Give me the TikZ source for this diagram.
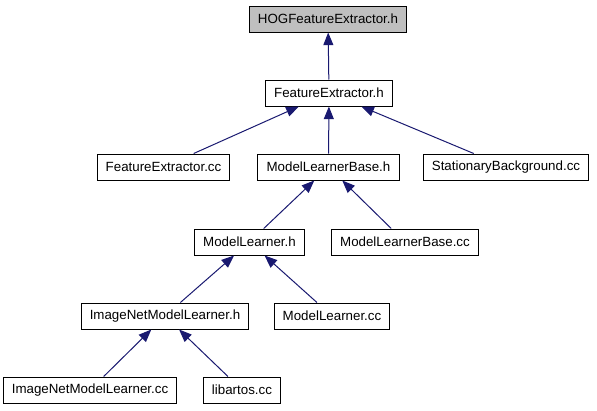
\documentclass[tikz,border=0pt]{standalone}
\usepackage{fontspec}
\setmainfont{Liberation Sans}
\usepackage{xcolor}
\usepackage{tikz}
\usetikzlibrary{arrows.meta,positioning,calc}
\definecolor{edgeblue}{HTML}{191970}
\tikzset{
  filebox/.style={
    rectangle, draw=black, fill=white,
    minimum height=19.5pt, inner xsep=6.5pt, inner ysep=0pt,
    font=\fontsize{10}{12}\selectfont, align=center, line width=0.75pt
  },
  rootbox/.style={
    filebox, fill=black!25
  },
  incl/.style={{Triangle[length=9.5pt,width=7.5pt]}-, line width=0.75pt, color=edgeblue},
}

\begin{document}
\begin{tikzpicture}[x=0.75pt,y=-0.75pt]
  \useasboundingbox (0,0) rectangle (597,411);

  % Included header
  \node[rootbox] (hog) at (328,19) {HOGFeatureExtractor.h};

  % First level
  \node[filebox] (feath) at (329,93) {FeatureExtractor.h};

  % Second level
  \node[filebox] (featcc) at (163.5,167) {FeatureExtractor.cc};
  \node[filebox] (mlbaseh) at (328.5,167) {ModelLearnerBase.h};
  \node[filebox] (statbg) at (506,167) {StationaryBackground.cc};

  % Third level
  \node[filebox] (mlh) at (249.5,242) {ModelLearner.h};
  \node[filebox] (mlbasecc) at (405,242) {ModelLearnerBase.cc};

  % Fourth level
  \node[filebox] (inmlh) at (165,316) {ImageNetModelLearner.h};
  \node[filebox] (mlcc) at (332,316) {ModelLearner.cc};

  % Fifth level
  \node[filebox] (inmlcc) at (90,390) {ImageNetModelLearner.cc};
  \node[filebox] (libartos) at (242,390) {libartos.cc};

  % Include edges
  \draw[incl] (hog) -- (feath);
  \draw[incl] (feath) -- (featcc);
  \draw[incl] (feath) -- (mlbaseh);
  \draw[incl] (feath) -- (statbg);
  \draw[incl] (mlbaseh) -- (mlh);
  \draw[incl] (mlbaseh) -- (mlbasecc);
  \draw[incl] (mlh) -- (inmlh);
  \draw[incl] (mlh) -- (mlcc);
  \draw[incl] (inmlh) -- (inmlcc);
  \draw[incl] (inmlh) -- (libartos);

\end{tikzpicture}
\end{document}
